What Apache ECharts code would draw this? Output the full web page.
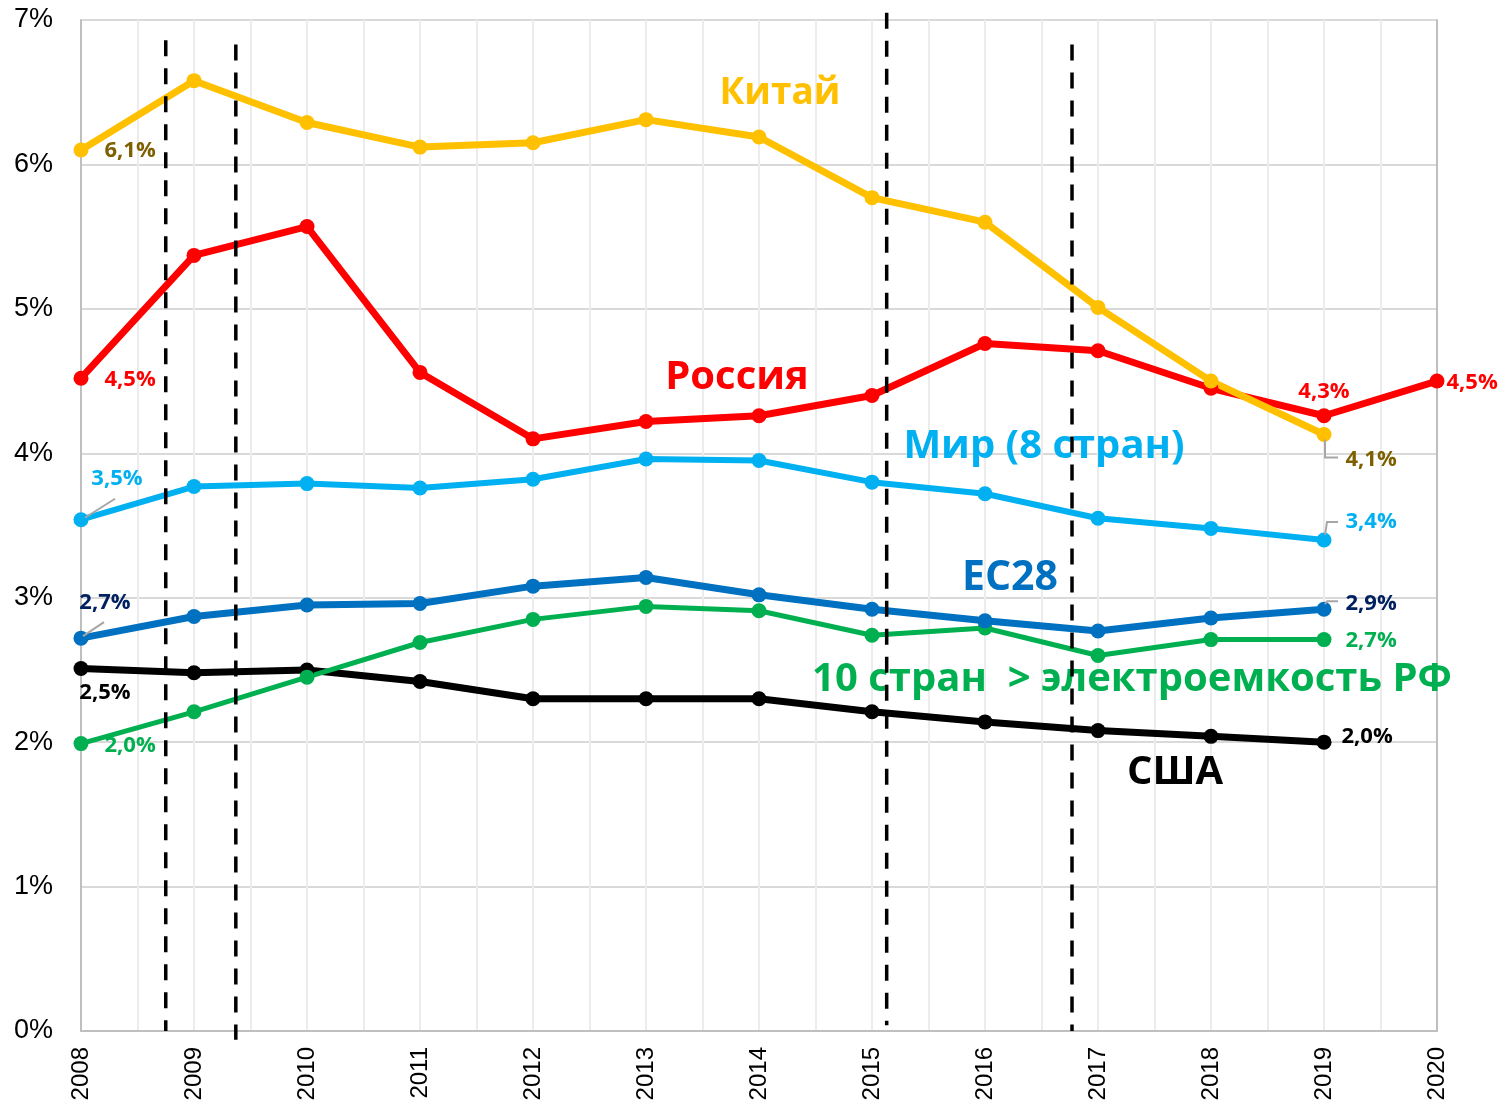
<!DOCTYPE html>
<html>
<head>
<meta charset="utf-8">
<script src="https://cdn.jsdelivr.net/npm/echarts@6/dist/echarts.min.js"></script>
<style>
  html, body { margin: 0; padding: 0; background: #fff; }
  #chart { width: 1504px; height: 1105px; }
</style>
</head>
<body>
<div id="chart"></div>
<script>
// годы и значения (%)
const years = [2008, 2009, 2010, 2011, 2012, 2013, 2014, 2015, 2016, 2017, 2018, 2019, 2020];
const china = [6.10, 6.58, 6.29, 6.12, 6.15, 6.31, 6.19, 5.77, 5.60, 5.01, 4.50, 4.13];
const russia = [4.52, 5.37, 5.57, 4.56, 4.10, 4.22, 4.26, 4.40, 4.76, 4.71, 4.45, 4.26, 4.50];
const world = [3.54, 3.77, 3.79, 3.76, 3.82, 3.96, 3.95, 3.80, 3.72, 3.55, 3.48, 3.40];
const eu28 = [2.72, 2.87, 2.95, 2.96, 3.08, 3.14, 3.02, 2.92, 2.84, 2.77, 2.86, 2.92];
const tenCountries = [1.99, 2.21, 2.45, 2.69, 2.85, 2.94, 2.91, 2.74, 2.79, 2.60, 2.71, 2.71];
const usa = [2.51, 2.48, 2.50, 2.42, 2.30, 2.30, 2.30, 2.21, 2.14, 2.08, 2.04, 2.00];

// вертикальные пунктиры: год, верх, низ (в %)
const crisisYears = [2008.75, 2009.37, 2015.13, 2016.77];
const crisisTop = [6.86, 6.83, 7.05, 6.83];
const crisisBottom = [0, -0.06, 0.04, 0];

const LABEL_FONT = '"Open Sans", "Noto Sans", sans-serif';

const chart = echarts.init(document.getElementById('chart'));

// подпись точки
function lbl(color, position, distance, offset) {
  return {
    show: true,
    position: position,
    distance: distance,
    offset: offset || [0, 0],
    formatter: (p) => p.value[1].toFixed(1).replace('.', ',') + '%',
    color: color,
    fontFamily: LABEL_FONT,
    fontWeight: 'bold',
    fontSize: 22
  };
}

// labels: { индекс: конфиг подписи }
function makeSeries(name, values, color, width, labels) {
  return {
    name: name,
    type: 'line',
    symbol: 'circle',
    symbolSize: 15,
    lineStyle: { color: color, width: width },
    itemStyle: { color: color },
    emphasis: { disabled: true },
    data: values.map((v, i) => {
      const item = { value: [years[i], v] };
      if (labels[i]) item.label = labels[i];
      return item;
    })
  };
}

const last = 11;
const series = [
  makeSeries('США', usa, '#000000', 7, {
    0: lbl('#000000', 'bottom', 6, [24, 0]),
    [last]: lbl('#000000', 'right', 10, [0, -5])
  }),
  makeSeries('10 стран', tenCountries, '#00B050', 5, {
    0: lbl('#00B050', 'right', 16, [0, 2]),
    [last]: lbl('#00B050', 'right', 14, [0, 1])
  }),
  makeSeries('ЕС28', eu28, '#0070C0', 7, {
    0: lbl('#002060', 'top', 17, [24, 0]),
    [last]: lbl('#002060', 'right', 14, [0, -6])
  }),
  makeSeries('Мир (8 стран)', world, '#00B0F0', 6, {
    0: lbl('#00B0F0', 'top', 22, [36, 0]),
    [last]: lbl('#00B0F0', 'right', 14, [0, -18])
  }),
  makeSeries('Россия', russia, '#FF0000', 7, {
    0: lbl('#FF0000', 'right', 16, [0, 2]),
    [last]: lbl('#FF0000', 'top', 5),
    12: lbl('#FF0000', 'right', 2, [0, 2])
  }),
  makeSeries('Китай', china, '#FFC000', 7, {
    0: lbl('#7F6000', 'right', 16, [0, 1]),
    [last]: lbl('#7F6000', 'right', 14, [0, 25])
  })
];

crisisYears.forEach((x, i) => {
  series.push({
    type: 'line',
    symbol: 'none',
    clip: false,
    silent: true,
    z: 10,
    lineStyle: { color: '#000', width: 3.5, type: [16, 12] },
    data: [[x, crisisTop[i]], [x, crisisBottom[i]]]
  });
});

const nameLabels = [
  { text: 'Китай', x: 780, y: 93, size: 37, color: '#FFC000' },
  { text: 'Россия', x: 737, y: 378, size: 40, color: '#FF0000' },
  { text: 'Мир (8 стран)', x: 1044, y: 447, size: 40, color: '#00B0F0' },
  { text: 'ЕС28', x: 1010, y: 578, size: 41, color: '#0070C0' },
  { text: '10 стран  > электроемкость РФ', x: 1132, y: 680, size: 40, color: '#00B050' },
  { text: 'США', x: 1175, y: 773, size: 40, color: '#000000' }
];

chart.setOption({
  animation: false,
  backgroundColor: '#fff',
  grid: { left: 81, right: 67, top: 20, bottom: 74, containLabel: false },
  xAxis: {
    type: 'value',
    min: 2008,
    max: 2020,
    interval: 1,
    axisLine: { show: true, lineStyle: { color: '#bfbfbf', width: 2 } },
    axisTick: { show: false },
    axisLabel: {
      rotate: 90,
      margin: 16,
      color: '#000',
      fontFamily: '"Liberation Sans", Arial, sans-serif',
      fontSize: 24,
      formatter: (v) => String(v)
    },
    splitLine: { show: true, lineStyle: { color: '#ececec', width: 2 } },
    minorTick: { show: false, splitNumber: 2 },
    minorSplitLine: { show: true, lineStyle: { color: '#ececec', width: 2 } }
  },
  yAxis: [{
    type: 'value',
    min: 0,
    max: 7,
    interval: 1,
    axisLine: { show: true, lineStyle: { color: '#bfbfbf', width: 2 } },
    axisTick: { show: false },
    axisLabel: {
      margin: 28,
      color: '#000',
      fontFamily: '"Liberation Sans", Arial, sans-serif',
      fontSize: 27,
      formatter: (v) => v + '%'
    },
    splitLine: { show: true, lineStyle: { color: '#d9d9d9', width: 2 } }
  }, {
    type: 'value',
    min: 0,
    max: 7,
    interval: 1,
    position: 'right',
    axisLine: { show: true, lineStyle: { color: '#bfbfbf', width: 2 } },
    axisTick: { show: false },
    axisLabel: { show: false },
    splitLine: { show: false }
  }],
  series: series
});

// выноски подписей и названия рядов
const leaders = [
  { s: 3, i: 0, pts: [[4, -2], [34, -21]] },
  { s: 2, i: 0, pts: [[2, -2], [23, -16]] },
  { s: 5, i: last, pts: [[1, 5], [1, 23], [14, 23]] },
  { s: 3, i: last, pts: [[1, -5], [3, -18], [14, -18]] },
  { s: 2, i: last, pts: [[1, -5], [3, -8], [14, -8]] }
];
const graphics = [];
leaders.forEach((l) => {
  const d = series[l.s].data[l.i].value;
  const p = chart.convertToPixel({ gridIndex: 0 }, d);
  graphics.push({
    type: 'polyline',
    z: 5,
    shape: { points: l.pts.map((q) => [p[0] + q[0], p[1] + q[1]]) },
    style: { stroke: '#a6a6a6', lineWidth: 2, fill: null }
  });
});
nameLabels.forEach((n) => {
  graphics.push({
    type: 'text',
    x: n.x,
    y: n.y,
    z: 6,
    style: {
      text: n.text,
      fill: n.color,
      font: 'bold ' + n.size + 'px ' + LABEL_FONT,
      align: 'center',
      verticalAlign: 'middle'
    }
  });
});
chart.setOption({ graphic: graphics });
</script>
</body>
</html>
